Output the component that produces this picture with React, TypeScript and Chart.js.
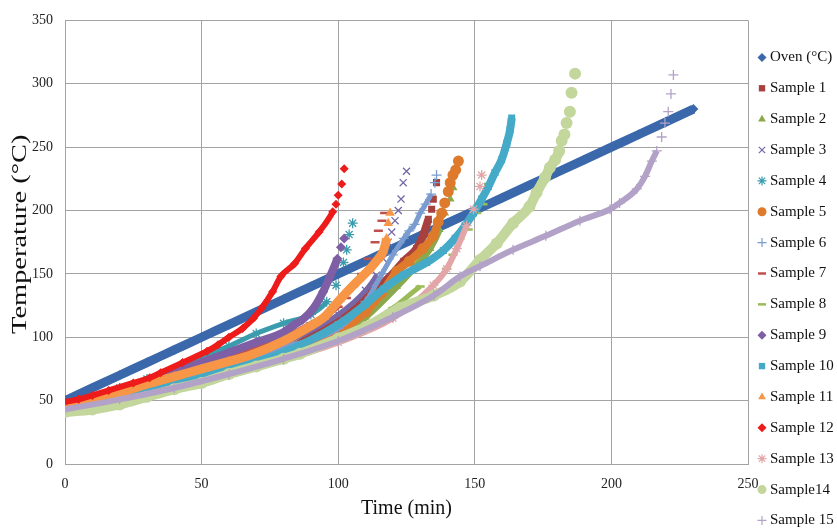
import React, { useEffect, useRef } from 'react';
import { Chart, registerables } from 'chart.js';
import { drawPoint } from 'chart.js/helpers';

Chart.register(...registerables);

type P = [number, number];

const seriesNames = [
  'Oven (°C)', 'Sample 1', 'Sample 2', 'Sample 3', 'Sample 4', 'Sample 5', 'Sample 6', 'Sample 7',
  'Sample 8', 'Sample 9', 'Sample 10', 'Sample 11', 'Sample 12', 'Sample 13', 'Sample14', 'Sample 15',
];

const xTitle = 'Time (min)';
const yTitle = 'Temperature (°C)';
const xTicks = [0, 50, 100, 150, 200, 250];
const yTicks = [0, 50, 100, 150, 200, 250, 300, 350];

const oven: P[] = [[0, 50], [10, 60], [20, 70], [30, 80], [40, 90], [50, 100], [60, 110], [70, 120], [80, 130], [90, 140], [100, 150], [110, 160], [120, 170], [130, 180], [140, 190], [150, 200], [160, 210], [170, 220], [180, 230], [190, 240], [200, 250], [210, 260], [220, 270], [230, 280]];
const s1: P[] = [[0, 48], [20, 56], [40, 66], [60, 77], [80, 89], [100, 114], [110, 132], [119, 148], [124, 160], [128.7, 170], [131, 180], [133, 193], [134.2, 201], [134.8, 209], [136, 222]];
const s2: P[] = [[0, 46], [20, 55], [40, 64], [60, 74], [80, 86], [100, 100], [110, 116], [121.4, 140], [127.5, 154], [133.6, 170], [137, 185], [139, 198], [141, 209], [142.1, 218]];
const s3: P[] = [[0, 45], [20, 55], [40, 67], [60, 80], [80, 95], [100, 118], [110, 137], [114, 149], [116.5, 162], [118.3, 175], [119.6, 183], [120.8, 192], [122, 200], [123, 209], [123.8, 222], [125, 231]];
const s4: P[] = [[0, 48], [10, 53], [20, 60], [30, 67], [40, 75], [50, 84], [60, 93], [70, 103], [80, 111], [90, 118], [95.8, 128], [99.2, 141], [101.9, 159], [103.1, 169], [104, 181], [105.3, 190]];
const s5: P[] = [[0, 46], [20, 55], [40, 65], [60, 76], [80, 88], [100, 104], [110, 120], [116, 135], [121.4, 152], [126, 160], [131, 170], [134.8, 180], [136.6, 191], [137.9, 198], [139, 206], [140.3, 215], [141, 222], [142, 228], [143, 232], [144, 239]];
const s6: P[] = [[0, 47], [20, 56], [40, 67], [60, 79], [80, 92], [100, 107], [110, 128], [116, 150], [120, 165], [124, 178], [126, 184], [128, 189], [130, 198], [132, 205], [134, 213], [135.4, 222], [136, 228]];
const s7: P[] = [[0, 46], [20, 57], [40, 71], [60, 85], [80, 100], [90, 111], [100, 124], [103, 131], [106, 141], [108.6, 150], [111, 162], [113.5, 175], [114.7, 184], [116, 192], [117, 198]];
const s8: P[] = [[0, 44], [20, 53], [40, 62], [60, 72], [80, 84], [100, 97], [120, 123], [130, 140], [139.7, 154], [142, 165], [144.6, 178], [147.6, 185], [150.7, 198], [153, 205], [155, 221]];
const s9: P[] = [[0, 47], [10, 52], [20, 58], [30, 65], [40, 72], [50, 80], [60, 88], [70, 96], [80, 104], [84, 110], [87, 114], [91, 123], [94.5, 136], [97, 148], [99.7, 162], [101, 171], [102.2, 178]];
const s10: P[] = [[0, 45], [20, 53], [40, 63], [60, 74], [80, 88], [100, 110], [110, 126], [116.5, 138], [123.8, 149], [132.4, 159], [138.5, 168.5], [142.8, 178], [146.4, 188], [149.5, 198], [152.5, 209], [155, 219], [157.4, 230], [159.8, 240], [161.7, 253], [162.9, 263.5], [163.5, 273]];
const s11: P[] = [[0, 45], [10, 50], [20, 56], [30, 63], [40, 69], [50, 75], [60, 81], [68, 86], [80, 97], [90, 109], [95, 116], [100.7, 130], [105.5, 141], [111.6, 154], [114.7, 162], [116.5, 168], [117.7, 178], [118.3, 190], [119, 198]];
const s12: P[] = [[0, 49], [5, 51], [10, 54], [16, 58], [25, 64], [31, 68], [35, 72], [43, 80], [52, 89], [56, 94], [60, 100], [65, 107], [69, 115], [72, 123], [76, 136], [79, 148], [84, 158], [88, 170], [93, 183], [98, 199], [99.2, 205], [100, 212], [101.3, 221], [102.2, 233]];
const s13: P[] = [[0, 42], [20, 50], [40, 60], [60, 70], [80, 82], [100, 96], [120, 115], [134.8, 141], [139.7, 154], [143.4, 170], [147, 188], [149.5, 201], [151.9, 219], [152.5, 228]];
const s14: P[] = [[0, 41], [10, 43], [20, 47], [30, 53], [40, 59], [50, 64], [60, 71], [70, 77], [80, 83], [86, 87], [100, 99], [110, 108], [122.6, 123], [135, 133], [144.6, 144], [151.9, 161], [158, 174], [164, 190], [170, 203], [172.6, 214], [175.7, 226], [177.5, 234], [179.4, 240], [180.9, 247], [181.8, 255], [182.8, 260], [183.6, 269], [184.8, 278], [185.4, 293], [186.7, 308]];
const s15: P[] = [[0, 43], [20, 51], [40, 60], [60, 71], [80, 83], [100, 97], [120, 116], [135, 133], [144.6, 148], [151.9, 156], [164, 169], [176, 180], [188.5, 192], [199.5, 201], [203, 206], [209.3, 217], [212.3, 227], [214.8, 239], [216.6, 247], [218.4, 258], [219.6, 269], [220.8, 278], [221.8, 292], [222.7, 307]];

const seriesData: P[][] = [oven, s1, s2, s3, s4, s5, s6, s7, s8, s9, s10, s11, s12, s13, s14, s15];

const colors = ['#3A68AA', '#A8403E', '#8BA94C', '#7668A8', '#3A9CAC', '#DE7A2C', '#7A9CD0', '#C0504D', '#9BBB59', '#7E5FA6', '#45AAC8', '#F79646', '#EE1B1B', '#E3A6A8', '#C3D69B', '#B3A2C7'];
const styles = ['rectRot', 'rect', 'triangle', 'crossRot', 'star', 'circle', 'cross', 'line', 'line', 'rectRot', 'rect', 'triangle', 'rectRot', 'star', 'circle', 'cross'];
const radii = [5, 5, 5, 5, 5, 5.5, 5, 4.5, 4.5, 5, 5, 5.5, 4.5, 5, 6, 5];
const bandWidths = [9, 8, 7, 5, 5, 8, 5, 5, 5, 8, 8, 9, 6, 6, 10, 6];
const sparseCounts = [0, 3, 3, 8, 5, 6, 2, 8, 7, 2, 0, 2, 4, 3, 6, 5];

const isStroke = (s: string) => s === 'crossRot' || s === 'star' || s === 'cross' || s === 'line';
const FONT = '"Liberation Serif", "Times New Roman", serif';

const overlayPlugin = {
  id: 'sideLegendAndTitle',
  afterDraw(chart: any) {
    const ctx = chart.ctx as CanvasRenderingContext2D;
    const area = chart.chartArea;
    ctx.save();
    // legend
    ctx.font = `15px ${FONT}`;
    ctx.textBaseline = 'middle';
    ctx.textAlign = 'left';
    seriesNames.forEach((name, i) => {
      const y = area.top + 37 + i * 30.87;
      const x = area.right + 14;
      const st = styles[i];
      ctx.fillStyle = colors[i];
      ctx.strokeStyle = colors[i];
      ctx.lineWidth = st === 'line' ? 2.5 : 1.2;
      drawPoint(ctx, { pointStyle: st, radius: st === 'line' ? 4 : 4.5, rotation: 0, borderWidth: isStroke(st) ? ctx.lineWidth : 0 } as any, x, y);
      ctx.fillStyle = '#111';
      ctx.fillText(name, x + 8, y);
    });
    // y-axis title (stretched along its length as in the reference)
    ctx.font = `20px ${FONT}`;
    ctx.fillStyle = '#111';
    ctx.textAlign = 'center';
    ctx.textBaseline = 'middle';
    ctx.translate(21, (area.top + area.bottom) / 2 - 8);
    ctx.rotate(-Math.PI / 2);
    ctx.scale(1.42, 1);
    ctx.fillText(yTitle, 0, 0);
    ctx.restore();
  },
};

export default function App() {
  const ref = useRef<HTMLCanvasElement>(null);
  useEffect(() => {
    document.body.style.margin = '0';
    const canvas = ref.current!;
    const datasets = seriesData.map((pts, i) => {
      const n = pts.length;
      const cut = n - 1 - sparseCounts[i];
      const st = styles[i];
      return {
        label: seriesNames[i],
        data: pts.map(([x, y]) => ({ x, y })),
        showLine: true,
        borderColor: colors[i],
        backgroundColor: colors[i],
        borderWidth: bandWidths[i],
        cubicInterpolationMode: 'monotone',
        pointStyle: st,
        pointRadius: radii[i],
        pointBorderWidth: st === 'line' ? 2.5 : isStroke(st) ? 1.3 : 0,
        pointBackgroundColor: colors[i],
        pointBorderColor: colors[i],
        order: 15 - i,
        segment: {
          borderColor: (c: any) => (c.p1DataIndex > cut ? 'rgba(0,0,0,0)' : undefined),
        },
      };
    });
    const chart = new Chart(canvas, {
      type: 'scatter',
      data: { datasets: datasets as any },
      options: {
        animation: false,
        responsive: false,
        devicePixelRatio: 1,
        layout: { padding: { top: 16, right: 89, left: 0, bottom: 0 } },
        plugins: { legend: { display: false }, tooltip: { enabled: false } },
        scales: {
          x: {
            type: 'linear',
            min: 0,
            max: 250,
            afterBuildTicks: (s: any) => { s.ticks = xTicks.map((v) => ({ value: v })); },
            afterFit: (s: any) => { s.height = 65; },
            grid: { color: '#A3A3A3', lineWidth: 1, drawTicks: false },
            border: { color: '#A3A3A3' },
            ticks: { padding: 12, color: '#222', font: { family: FONT, size: 14 } },
            title: { display: true, text: xTitle, color: '#111', font: { family: FONT, size: 20 }, padding: { top: 0, bottom: 8 } },
          },
          y: {
            type: 'linear',
            min: 0,
            max: 350,
            afterBuildTicks: (s: any) => { s.ticks = yTicks.map((v) => ({ value: v })); },
            afterFit: (s: any) => { s.width = 65; },
            grid: { color: '#A3A3A3', lineWidth: 1, drawTicks: false },
            border: { color: '#A3A3A3' },
            ticks: { padding: 12, color: '#222', font: { family: FONT, size: 14 } },
            title: { display: false },
          },
        },
      },
      plugins: [overlayPlugin],
    });
    return () => chart.destroy();
  }, []);
  return (
    <div style={{ width: 837, height: 529, background: '#fff' }}>
      <canvas ref={ref} width={837} height={529} style={{ display: 'block' }} />
    </div>
  );
}
